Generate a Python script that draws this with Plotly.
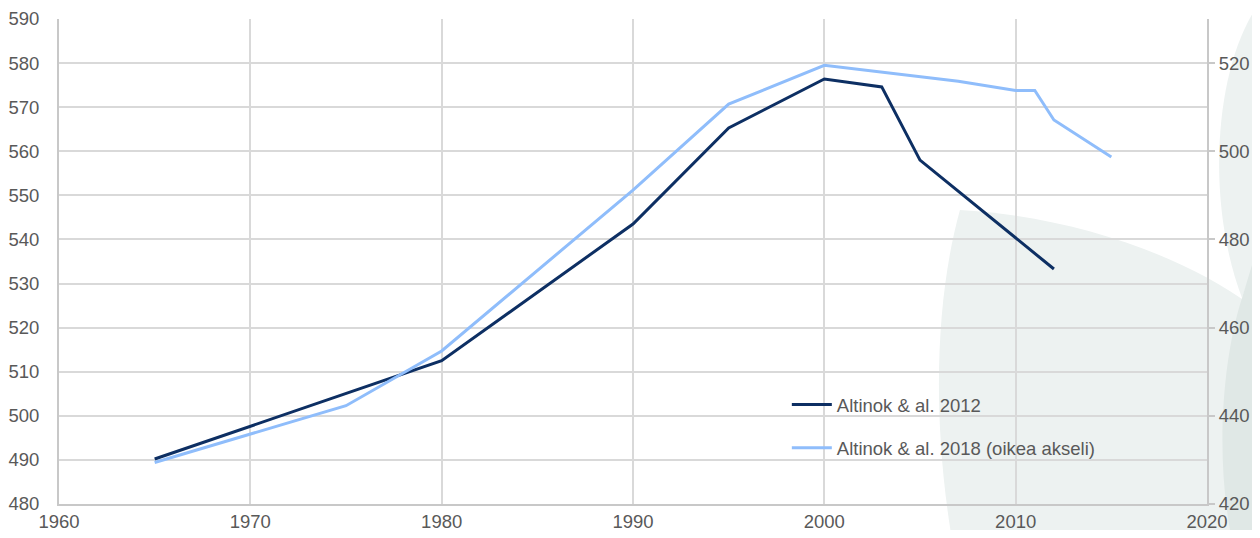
import plotly.graph_objects as go

# Altinok & al. 2012 (left axis)
years_2012 = [1965, 1970, 1975, 1980, 1990, 1995, 2000, 2003, 2005, 2012]
vals_2012 = [490.2, 497.6, 505.1, 512.5, 543.5, 565.3, 576.4, 574.6, 558.0, 533.3]

# Altinok & al. 2018 (right axis)
years_2018 = [1965, 1975, 1980, 1990, 1995, 2000, 2007, 2010, 2011, 2012, 2015]
vals_2018 = [429.4, 442.3, 454.7, 491.2, 510.7, 519.5, 515.9, 513.8, 513.8, 507.1, 498.7]

name_2012 = "Altinok & al. 2012"
name_2018 = "Altinok & al. 2018 (oikea akseli)"

# the page body has an 8px margin; keep the figure inside the visible window
OFF = 8
W, H = 1260 - 2 * OFF, 538 - 2 * OFF
L, T = 59 - OFF, 19 - OFF
pw, ph = 1148, 485
R, B = W - L - pw, H - T - ph


def px(x, y):
    # window pixel position -> paper coords (decorative background only)
    return (x - OFF - L) / pw, (OFF + T + ph - y) / ph


def path(points):
    out = []
    for cmd, pts in points:
        coords = " ".join("%.4f,%.4f" % px(*p) for p in pts)
        out.append(cmd + coords)
    return " ".join(out) + " Z"


fig = go.Figure()

fig.add_trace(go.Scatter(
    x=years_2012, y=vals_2012, mode="lines", name=name_2012,
    line=dict(color="#0d2f63", width=3), legend="legend", showlegend=True,
))
fig.add_trace(go.Scatter(
    x=years_2018, y=vals_2018, mode="lines", name=name_2018,
    line=dict(color="#8fbdfb", width=3), yaxis="y2", legend="legend2", showlegend=True,
))

# decorative background circles
light = "#edf2f1"
dark = "#e0e8e6"
shapes = [
    dict(type="path", xref="paper", yref="paper", layer="below", line_width=0, fillcolor=light,
         path=path([("M", [(960, 210)]),
                    ("C", [(1060, 215), (1180, 250), (1260, 312)]),
                    ("L", [(1262, 540)]),
                    ("L", [(952, 540)]),
                    ("C", [(932, 420), (935, 300), (960, 210)])])),
    dict(type="path", xref="paper", yref="paper", layer="below", line_width=0, fillcolor=light,
         path=path([("M", [(1256, 8)]),
                    ("C", [(1215, 70), (1205, 200), (1242, 298)]),
                    ("L", [(1262, 240)]),
                    ("L", [(1262, 8)])])),
    dict(type="path", xref="paper", yref="paper", layer="below", line_width=0, fillcolor=dark,
         path=path([("M", [(1242, 298)]),
                    ("C", [(1222, 360), (1215, 460), (1232, 540)]),
                    ("L", [(1262, 540)]),
                    ("L", [(1262, 232)])])),
]

tick_font = dict(family="Liberation Sans, Arial, sans-serif", size=18.5, color="#595959")
grid = "#d9d9d9"

fig.update_layout(
    width=W, height=H,
    margin=dict(l=L, r=R, t=T, b=B, autoexpand=False),
    paper_bgcolor="white",
    plot_bgcolor="rgba(0,0,0,0)",
    showlegend=True,
    shapes=shapes,
    font=tick_font,
    xaxis=dict(range=[1960, 2020], dtick=10, tick0=1960, showgrid=True, gridcolor=grid, gridwidth=1.5,
               zeroline=False, showline=True, linecolor="#c8c8c8", linewidth=2, automargin=False,
               tickfont=tick_font, ticklabelstandoff=0),
    yaxis=dict(range=[480, 590], dtick=10, showgrid=True, gridcolor=grid, gridwidth=1.5,
               zeroline=False, showline=True, linecolor="#c8c8c8", linewidth=2, automargin=False,
               tickfont=tick_font, ticklabelstandoff=14),
    yaxis2=dict(range=[420, 530], dtick=20, tick0=420, overlaying="y", side="right",
                showgrid=False, zeroline=False, showline=True, linecolor="#c8c8c8", linewidth=2,
                ticks="outside", ticklen=6, tickcolor="#c8c8c8", tickwidth=2, automargin=False,
                tickfont=tick_font, ticklabelstandoff=0),
    legend=dict(x=0.634, y=0.204, xanchor="left", yanchor="middle", bgcolor="rgba(0,0,0,0)",
                font=tick_font, itemwidth=40),
    legend2=dict(x=0.634, y=0.115, xanchor="left", yanchor="middle", bgcolor="rgba(0,0,0,0)",
                 font=tick_font, itemwidth=40),
)

fig.write_html("out.html")
